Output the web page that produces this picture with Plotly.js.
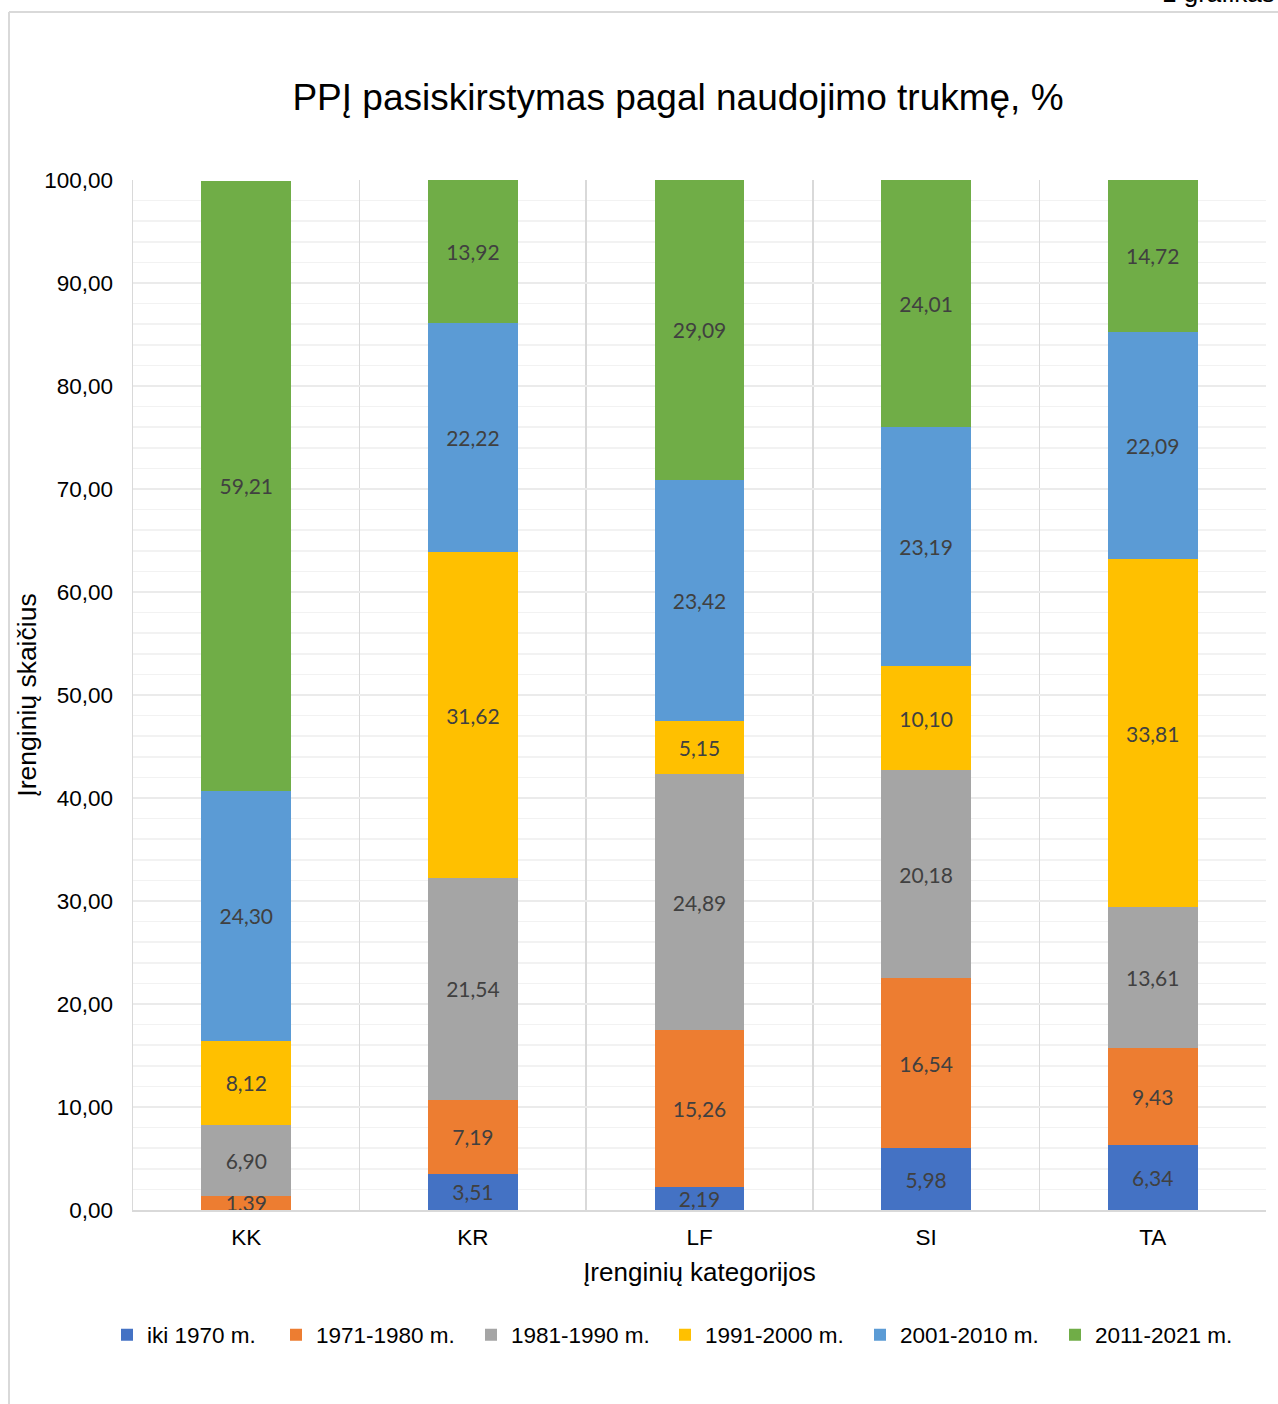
<!DOCTYPE html>
<html>
<head>
<meta charset="utf-8">
<script src="https://cdn.plot.ly/plotly-3.0.1.min.js"></script>
<style>html,body{margin:0;padding:0;background:#fff;}#chart{width:1278px;height:1404px;}</style>
</head>
<body>
<div id="chart"></div>
<script>
const categories = ['KK', 'KR', 'LF', 'SI', 'TA'];
const seriesNames = ['iki 1970 m.', '1971-1980 m.', '1981-1990 m.', '1991-2000 m.', '2001-2010 m.', '2011-2021 m.'];
const iki1970 = [0, 3.51, 2.19, 5.98, 6.34];
const y1971_1980 = [1.39, 7.19, 15.26, 16.54, 9.43];
const y1981_1990 = [6.90, 21.54, 24.89, 20.18, 13.61];
const y1991_2000 = [8.12, 31.62, 5.15, 10.10, 33.81];
const y2001_2010 = [24.30, 22.22, 23.42, 23.19, 22.09];
const y2011_2021 = [59.21, 13.92, 29.09, 24.01, 14.72];
const yTickVals = [0, 10, 20, 30, 40, 50, 60, 70, 80, 90, 100];

const seriesValues = [iki1970, y1971_1980, y1981_1990, y1991_2000, y2001_2010, y2011_2021];
const colors = ['#4472C4', '#ED7D31', '#A5A5A5', '#FFC000', '#5B9BD5', '#70AD47'];
const legendMarkerPx = [127, 296, 491, 685, 880, 1075];

function fmt(v) { return v > 0 ? v.toFixed(2).replace('.', ',') : ''; }
const legendId = i => i === 0 ? 'legend' : 'legend' + (i + 1);

const traces = seriesValues.map((vals, i) => ({
  type: 'bar',
  name: seriesNames[i],
  x: categories,
  y: vals,
  text: vals.map(fmt),
  textposition: 'inside',
  insidetextanchor: 'middle',
  textangle: 0,
  constraintext: 'none',
  insidetextfont: {family: 'Lato, "Open Sans", sans-serif', size: 21, color: '#404040'},
  marker: {color: colors[i], line: {width: 0}},
  legend: legendId(i),
  showlegend: true,
  hoverinfo: 'skip'
}));

const L = 133, R = 1266, T = 180, B = 1210;
const px2x = p => (p - L) / (R - L);
const px2y = p => (B - p) / (B - T);

const layout = {
  width: 1278,
  height: 1404,
  margin: {l: L, r: 1278 - R, t: T, b: 1404 - B, pad: 0},
  paper_bgcolor: '#ffffff',
  plot_bgcolor: '#ffffff',
  barmode: 'stack',
  bargap: 0.603,
  separators: ', ',
  showlegend: true,
  font: {family: '"Liberation Sans", Arial, sans-serif', color: '#000000'},
  title: {
    text: 'PPĮ pasiskirstymas pagal naudojimo trukmę, %',
    font: {size: 37, color: '#000000', family: '"Liberation Sans", Arial, sans-serif'},
    x: 678 / 1278, xref: 'container', xanchor: 'center',
    y: 1 - 97 / 1404, yref: 'container', yanchor: 'middle'
  },
  xaxis: {
    type: 'category',
    tickson: 'boundaries',
    showgrid: true,
    gridcolor: '#d9d9d9',
    gridwidth: 1.5,
    showline: true,
    linecolor: '#d9d9d9',
    linewidth: 1.5,
    ticks: '',
    ticklabelstandoff: 6,
    tickfont: {size: 22.5, color: '#000000'},
    zeroline: false,
    title: {text: 'Įrenginių kategorijos', font: {size: 26, color: '#000000'}, standoff: 14}
  },
  yaxis: {
    range: [0, 100],
    tickvals: yTickVals,
    tickformat: '.2f',
    showgrid: true,
    gridcolor: '#ebebeb',
    gridwidth: 1.5,
    minor: {dtick: 2, showgrid: true, gridcolor: '#f2f2f2', gridwidth: 1.5},
    showline: true,
    linecolor: '#d9d9d9',
    linewidth: 1.5,
    zeroline: false,
    ticks: '',
    ticklabelstandoff: 14,
    tickfont: {size: 22.5, color: '#000000'},
    title: {text: 'Įrenginių skaičius', font: {size: 26.5, color: '#000000'}, standoff: 0}
  },
  shapes: [
    {type: 'line', xref: 'paper', yref: 'paper', x0: px2x(9), x1: px2x(1290), y0: px2y(12), y1: px2y(12), line: {color: '#d9d9d9', width: 2}},
    {type: 'line', xref: 'paper', yref: 'paper', x0: px2x(9), x1: px2x(9), y0: px2y(12), y1: px2y(1420), line: {color: '#d9d9d9', width: 2}}
  ],
  annotations: [
    {text: '1 grafikas', xref: 'paper', yref: 'paper', x: px2x(1160), y: px2y(10), xanchor: 'left', yanchor: 'bottom', showarrow: false, font: {size: 26, color: '#000000'}}
  ]
};

legendMarkerPx.forEach((m, i) => {
  layout[legendId(i)] = {
    orientation: 'h',
    x: px2x(m - 20), xanchor: 'left',
    y: px2y(1335), yanchor: 'middle',
    font: {size: 22.5, color: '#000000'},
    bgcolor: 'rgba(0,0,0,0)',
    itemclick: false,
    itemdoubleclick: false
  };
});

Plotly.newPlot('chart', traces, layout, {displayModeBar: false, staticPlot: true});
</script>
</body>
</html>
